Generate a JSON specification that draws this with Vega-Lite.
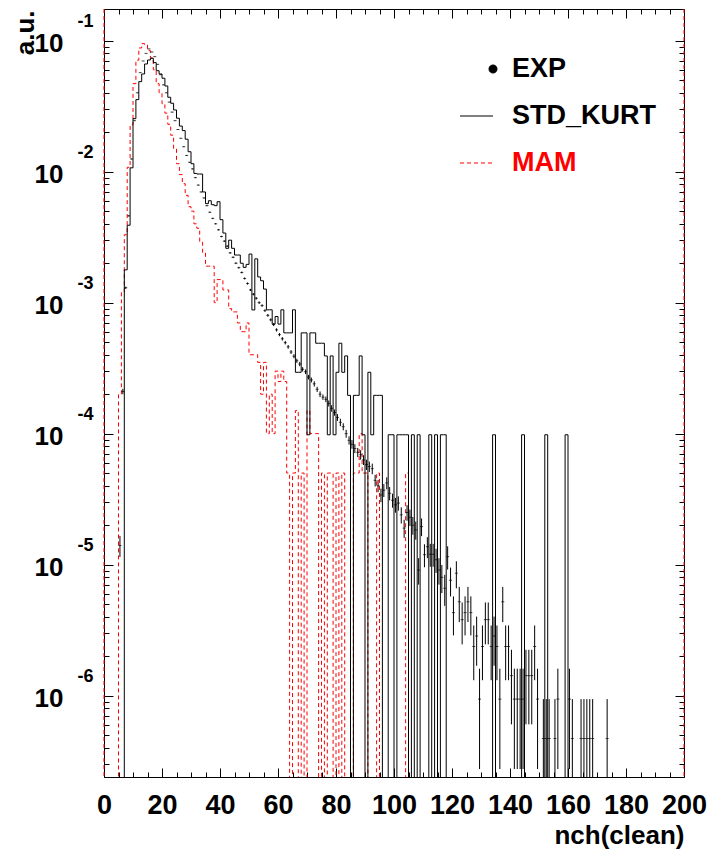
{
  "$schema": "https://vega.github.io/schema/vega-lite/v6.json",
  "width": 580,
  "height": 768,
  "autosize": {"type": "none"},
  "padding": {"left": 104, "top": 9, "right": 27, "bottom": 77},
  "background": "white",
  "config": {"view": {"stroke": "black", "strokeWidth": 1}, "font": "Liberation Sans"},
  "datasets": {
    "edges": [{"n": 0}, {"n": 200}],
    "mam": [{"n":4,"v":1e-9},{"n":5,"v":0.0002},{"n":6,"v":0.0012},{"n":7,"v":0.0033},{"n":8,"v":0.0108},{"n":9,"v":0.0228},{"n":10,"v":0.047},{"n":11,"v":0.071},{"n":12,"v":0.088},{"n":13,"v":0.095},{"n":14,"v":0.093},{"n":15,"v":0.084},{"n":16,"v":0.074},{"n":17,"v":0.06},{"n":18,"v":0.047},{"n":19,"v":0.04},{"n":20,"v":0.033},{"n":21,"v":0.028},{"n":22,"v":0.023},{"n":23,"v":0.019},{"n":24,"v":0.015},{"n":25,"v":0.0115},{"n":26,"v":0.0095},{"n":27,"v":0.0081},{"n":28,"v":0.0066},{"n":29,"v":0.0054},{"n":30,"v":0.005},{"n":31,"v":0.004},{"n":32,"v":0.0037},{"n":33,"v":0.0029},{"n":34,"v":0.0024},{"n":35,"v":0.0019},{"n":36,"v":0.0019},{"n":37,"v":0.0019},{"n":38,"v":0.001},{"n":39,"v":0.0015},{"n":40,"v":0.0015},{"n":41,"v":0.00125},{"n":42,"v":0.00125},{"n":43,"v":0.0009},{"n":44,"v":0.00085},{"n":45,"v":0.00085},{"n":46,"v":0.0007},{"n":47,"v":0.0006},{"n":48,"v":0.0006},{"n":49,"v":0.0007},{"n":50,"v":0.0004},{"n":51,"v":0.0004},{"n":52,"v":0.0004},{"n":53,"v":0.00035},{"n":54,"v":0.0002},{"n":55,"v":0.00035},{"n":56,"v":0.0001},{"n":57,"v":0.0002},{"n":58,"v":0.0001},{"n":59,"v":0.0003},{"n":60,"v":0.00025},{"n":61,"v":0.0003},{"n":62,"v":0.00025},{"n":63,"v":0.00005},{"n":64,"v":1e-9},{"n":65,"v":0.00005},{"n":66,"v":0.00015},{"n":67,"v":1e-9},{"n":68,"v":0.00005},{"n":69,"v":1e-9},{"n":70,"v":0.00015},{"n":71,"v":0.0001},{"n":72,"v":0.0001},{"n":73,"v":0.0001},{"n":74,"v":1e-9},{"n":75,"v":0.00005},{"n":76,"v":1e-9},{"n":77,"v":0.00005},{"n":78,"v":0.00005},{"n":79,"v":1e-9},{"n":80,"v":0.00005},{"n":81,"v":1e-9},{"n":82,"v":0.00005},{"n":83,"v":1e-9},{"n":86,"v":0.00005},{"n":87,"v":0.00005},{"n":88,"v":0.0001},{"n":89,"v":0.00005},{"n":90,"v":0.00005},{"n":91,"v":1e-9},{"n":94,"v":0.00005},{"n":95,"v":1e-9},{"n":104,"v":0.00005},{"n":105,"v":1e-9}],
    "std": [{"n":5,"v":1e-9},{"n":7,"v":0.00178},{"n":8,"v":0.0039},{"n":9,"v":0.0107},{"n":10,"v":0.0254},{"n":11,"v":0.0355},{"n":12,"v":0.0487},{"n":13,"v":0.0557},{"n":14,"v":0.0664},{"n":15,"v":0.0712},{"n":16,"v":0.0734},{"n":17,"v":0.068},{"n":18,"v":0.059},{"n":19,"v":0.0557},{"n":20,"v":0.0517},{"n":21,"v":0.0451},{"n":22,"v":0.037},{"n":23,"v":0.0333},{"n":24,"v":0.0296},{"n":25,"v":0.0256},{"n":26,"v":0.0223},{"n":27,"v":0.0206},{"n":28,"v":0.0177},{"n":29,"v":0.0142},{"n":30,"v":0.0115},{"n":31,"v":0.0097},{"n":32,"v":0.0096},{"n":33,"v":0.0096},{"n":34,"v":0.007},{"n":35,"v":0.0057},{"n":36,"v":0.006},{"n":37,"v":0.0056},{"n":38,"v":0.0055},{"n":39,"v":0.0059},{"n":40,"v":0.0043},{"n":41,"v":0.0034},{"n":42,"v":0.0026},{"n":43,"v":0.003},{"n":44,"v":0.0026},{"n":45,"v":0.00231},{"n":46,"v":0.00231},{"n":47,"v":0.002},{"n":48,"v":0.00186},{"n":49,"v":0.00196},{"n":50,"v":0.00235},{"n":51,"v":0.00088},{"n":52,"v":0.00216},{"n":53,"v":0.00157},{"n":54,"v":0.00147},{"n":55,"v":0.00127},{"n":56,"v":0.000882},{"n":57,"v":0.000882},{"n":58,"v":0.000686},{"n":59,"v":0.000784},{"n":60,"v":0.000686},{"n":61,"v":0.000882},{"n":62,"v":0.000588},{"n":63,"v":0.000588},{"n":64,"v":0.000588},{"n":65,"v":0.000882},{"n":66,"v":0.000294},{"n":67,"v":0.000294},{"n":68,"v":0.000588},{"n":69,"v":0.000588},{"n":70,"v":0.000098},{"n":71,"v":0.000588},{"n":72,"v":0.000588},{"n":73,"v":0.00049},{"n":74,"v":0.00049},{"n":75,"v":0.00049},{"n":76,"v":0.000392},{"n":77,"v":0.000098},{"n":78,"v":0.000392},{"n":79,"v":0.000098},{"n":80,"v":0.000294},{"n":81,"v":0.00049},{"n":82,"v":0.000294},{"n":83,"v":0.000392},{"n":84,"v":0.000196},{"n":85,"v":1e-9},{"n":86,"v":0.000196},{"n":87,"v":0.000196},{"n":88,"v":0.000392},{"n":89,"v":0.000098},{"n":90,"v":1e-9},{"n":91,"v":0.000294},{"n":92,"v":0.000098},{"n":93,"v":0.000196},{"n":94,"v":0.000196},{"n":95,"v":0.000196},{"n":96,"v":1e-9},{"n":98,"v":0.000098},{"n":99,"v":0.000098},{"n":100,"v":1e-9},{"n":101,"v":0.000098},{"n":102,"v":0.000098},{"n":103,"v":0.000098},{"n":104,"v":0.000098},{"n":105,"v":1e-9},{"n":106,"v":0.000098},{"n":107,"v":1e-9},{"n":108,"v":0.000098},{"n":109,"v":1e-9},{"n":112,"v":0.000098},{"n":113,"v":1e-9},{"n":114,"v":0.000098},{"n":115,"v":1e-9},{"n":116,"v":0.000098},{"n":117,"v":0.000098},{"n":118,"v":1e-9},{"n":134,"v":0.000098},{"n":135,"v":1e-9},{"n":144,"v":0.000098},{"n":145,"v":1e-9},{"n":152,"v":0.000098},{"n":153,"v":1e-9},{"n":159,"v":0.000098},{"n":160,"v":1e-9}],
    "exp": [
      {"c":5.5,"v":1.4e-5,"lo":1.144e-5,"hi":1.656e-5},{"c":6.5,"v":2.1e-4,"lo":2.0e-4,"hi":2.2e-4},{"c":7.5,"v":0.0013,"lo":0.001275,"hi":0.001325},{"c":8.5,"v":0.0046,"lo":0.004554,"hi":0.004646},{"c":9.5,"v":0.0125,"lo":0.01242,"hi":0.01258},{"c":10.5,"v":0.0245,"lo":0.02439,"hi":0.02461},{"c":11.5,"v":0.04,"lo":0.03986,"hi":0.04014},{"c":12.5,"v":0.057,"lo":0.05684,"hi":0.05716},{"c":13.5,"v":0.07,"lo":0.06982,"hi":0.07018},{"c":14.5,"v":0.08,"lo":0.07981,"hi":0.08019},{"c":15.5,"v":0.0865,"lo":0.0863,"hi":0.0867},{"c":16.5,"v":0.082,"lo":0.0818,"hi":0.0822},{"c":17.5,"v":0.0755,"lo":0.07531,"hi":0.07569},{"c":18.5,"v":0.066,"lo":0.06582,"hi":0.06618},{"c":19.5,"v":0.055,"lo":0.05484,"hi":0.05516},{"c":20.5,"v":0.046,"lo":0.04585,"hi":0.04615},{"c":21.5,"v":0.04,"lo":0.03986,"hi":0.04014},{"c":22.5,"v":0.034,"lo":0.03387,"hi":0.03413},{"c":23.5,"v":0.0285,"lo":0.02838,"hi":0.02862},{"c":24.5,"v":0.0245,"lo":0.02439,"hi":0.02461},{"c":25.5,"v":0.021,"lo":0.0209,"hi":0.0211},{"c":26.5,"v":0.018,"lo":0.01791,"hi":0.01809},{"c":27.5,"v":0.0155,"lo":0.01541,"hi":0.01559},{"c":28.5,"v":0.0133,"lo":0.01322,"hi":0.01338},{"c":29.5,"v":0.0118,"lo":0.01173,"hi":0.01187},{"c":30.5,"v":0.0105,"lo":0.01043,"hi":0.01057},{"c":31.5,"v":0.009,"lo":0.008935,"hi":0.009065},{"c":32.5,"v":0.0079,"lo":0.007839,"hi":0.007961},{"c":33.5,"v":0.007,"lo":0.006943,"hi":0.007057},{"c":34.5,"v":0.0063,"lo":0.006246,"hi":0.006354},{"c":35.5,"v":0.0055,"lo":0.005449,"hi":0.005551},{"c":36.5,"v":0.0049,"lo":0.004852,"hi":0.004948},{"c":37.5,"v":0.0044,"lo":0.004355,"hi":0.004445},{"c":38.5,"v":0.004,"lo":0.003957,"hi":0.004043},{"c":39.5,"v":0.0036,"lo":0.003559,"hi":0.003641},{"c":40.5,"v":0.0032,"lo":0.003161,"hi":0.003239},{"c":41.5,"v":0.00295,"lo":0.002913,"hi":0.002987},{"c":42.5,"v":0.0027,"lo":0.002664,"hi":0.002736},{"c":43.5,"v":0.0024,"lo":0.002366,"hi":0.002434},{"c":44.5,"v":0.00222,"lo":0.002188,"hi":0.002252},{"c":45.5,"v":0.002,"lo":0.00197,"hi":0.00203},{"c":46.5,"v":0.00185,"lo":0.001821,"hi":0.001879},{"c":47.5,"v":0.0017,"lo":0.001672,"hi":0.001728},{"c":48.5,"v":0.00153,"lo":0.001503,"hi":0.001557},{"c":49.5,"v":0.0014,"lo":0.001374,"hi":0.001426},{"c":50.5,"v":0.00125,"lo":0.001226,"hi":0.001274},{"c":51.5,"v":0.00116,"lo":0.001137,"hi":0.001183},{"c":52.5,"v":0.00108,"lo":0.001057,"hi":0.001103},{"c":53.5,"v":0.001,"lo":0.000978,"hi":0.001022},{"c":54.5,"v":0.00095,"lo":0.000929,"hi":0.000971},{"c":55.5,"v":0.00087,"lo":0.00085,"hi":0.00089},{"c":56.5,"v":0.0008,"lo":0.000781,"hi":0.000819},{"c":57.5,"v":0.00074,"lo":0.000721,"hi":0.000759},{"c":58.5,"v":0.00068,"lo":0.000662,"hi":0.000698},{"c":59.5,"v":0.00062,"lo":0.000603,"hi":0.000637},{"c":60.5,"v":0.00057,"lo":0.000554,"hi":0.000586},{"c":61.5,"v":0.00053,"lo":0.000514,"hi":0.000546},{"c":62.5,"v":0.000495,"lo":0.00048,"hi":0.00051},{"c":63.5,"v":0.00046,"lo":0.000445,"hi":0.000475},{"c":64.5,"v":0.00042,"lo":0.000406,"hi":0.000434},{"c":65.5,"v":0.00039,"lo":0.000376,"hi":0.000404},{"c":66.5,"v":0.00036,"lo":0.000347,"hi":0.000373},{"c":67.5,"v":0.00034,"lo":0.000327,"hi":0.000353},{"c":68.5,"v":0.00031,"lo":0.000298,"hi":0.000322},{"c":69.5,"v":0.000297,"lo":0.000285,"hi":0.000309},{"c":70.5,"v":0.00027,"lo":0.000259,"hi":0.000281},{"c":71.5,"v":0.000257,"lo":0.000246,"hi":0.000268},{"c":72.5,"v":0.00024,"lo":0.000229,"hi":0.000251},{"c":73.5,"v":0.000218,"lo":0.000208,"hi":0.000228},{"c":74.5,"v":0.0002,"lo":0.00019,"hi":0.00021},{"c":75.5,"v":0.00019,"lo":0.000181,"hi":0.000199},{"c":76.5,"v":0.000183,"lo":0.000174,"hi":0.000192},{"c":77.5,"v":0.00017,"lo":0.000161,"hi":0.000179},{"c":78.5,"v":0.000156,"lo":0.000147,"hi":0.000165},{"c":79.5,"v":0.000145,"lo":0.000137,"hi":0.000153},{"c":80.5,"v":0.000133,"lo":0.000125,"hi":0.000141},{"c":81.5,"v":0.000122,"lo":0.000114,"hi":0.00013},{"c":82.5,"v":0.000113,"lo":0.000106,"hi":0.00012},{"c":83.5,"v":0.0001,"lo":0.0000931,"hi":0.0001069},{"c":84.5,"v":0.000089,"lo":0.0000825,"hi":0.0000955},{"c":85.5,"v":0.000083,"lo":0.0000767,"hi":0.0000893},{"c":86.5,"v":0.000077,"lo":0.000071,"hi":0.000083},{"c":87.5,"v":0.000072,"lo":0.0000662,"hi":0.0000778},{"c":88.5,"v":0.000069,"lo":0.0000633,"hi":0.0000747},{"c":89.5,"v":0.000063,"lo":0.0000576,"hi":0.0000684},{"c":90.5,"v":0.000058,"lo":0.0000528,"hi":0.0000632},{"c":91.5,"v":0.000056,"lo":0.0000509,"hi":0.0000611},{"c":92.5,"v":0.000054,"lo":0.000049,"hi":0.000059},{"c":93.5,"v":0.000044,"lo":0.0000395,"hi":0.0000485},{"c":94.5,"v":0.00004,"lo":0.0000357,"hi":0.0000443},{"c":95.5,"v":0.000034,"lo":0.00003,"hi":0.000038},{"c":96.5,"v":0.000037,"lo":0.0000328,"hi":0.0000412},{"c":97.5,"v":0.000042,"lo":0.0000376,"hi":0.0000464},{"c":98.5,"v":0.000035,"lo":0.0000309,"hi":0.0000391},{"c":99.5,"v":0.000031,"lo":0.0000272,"hi":0.0000348},{"c":100.5,"v":0.0000286,"lo":0.0000249,"hi":0.0000323},{"c":101.5,"v":0.0000295,"lo":0.0000258,"hi":0.0000332},{"c":102.5,"v":0.000024,"lo":0.0000206,"hi":0.0000274},{"c":103.5,"v":0.000019,"lo":0.000016,"hi":0.000022},{"c":104.5,"v":0.000025,"lo":0.0000216,"hi":0.0000284},{"c":105.5,"v":0.000023,"lo":0.0000197,"hi":0.0000263},{"c":106.5,"v":0.00002,"lo":0.0000169,"hi":0.0000231},{"c":107.5,"v":0.0000184,"lo":0.0000155,"hi":0.0000213},{"c":108.5,"v":0.0000091,"lo":0.00000703,"hi":0.0000112},{"c":109.5,"v":0.0000195,"lo":0.0000165,"hi":0.0000225},{"c":110.5,"v":0.0000119,"lo":0.00000954,"hi":0.0000143},{"c":111.5,"v":0.0000137,"lo":0.0000112,"hi":0.0000162},{"c":112.5,"v":0.000012,"lo":0.00000963,"hi":0.0000144},{"c":113.5,"v":0.000012,"lo":0.00000963,"hi":0.0000144},{"c":114.5,"v":0.0000109,"lo":0.00000864,"hi":0.0000132},{"c":115.5,"v":0.0000091,"lo":0.00000703,"hi":0.0000112},{"c":116.5,"v":0.000008,"lo":0.00000606,"hi":0.00000994},{"c":117.5,"v":0.0000066,"lo":0.00000484,"hi":0.00000836},{"c":118.5,"v":0.0000115,"lo":0.00000917,"hi":0.0000138},{"c":119.5,"v":0.0000076,"lo":0.00000571,"hi":0.00000949},{"c":120.5,"v":0.0000043,"lo":0.00000288,"hi":0.00000572},{"c":121.5,"v":0.0000086,"lo":0.00000659,"hi":0.0000106},{"c":122.5,"v":0.0000052,"lo":0.00000364,"hi":0.00000676},{"c":123.5,"v":0.0000038,"lo":0.00000246,"hi":0.00000514},{"c":124.5,"v":0.0000043,"lo":0.00000288,"hi":0.00000572},{"c":125.5,"v":0.0000052,"lo":0.00000364,"hi":0.00000676},{"c":126.5,"v":0.0000043,"lo":0.00000288,"hi":0.00000572},{"c":127.5,"v":0.00000237,"lo":0.00000131,"hi":0.00000343},{"c":128.5,"v":0.00000285,"lo":0.00000169,"hi":0.00000401},{"c":129.5,"v":0.00000094,"lo":0.000000275,"hi":0.000001605},{"c":130.5,"v":0.00000237,"lo":0.00000131,"hi":0.00000343},{"c":131.5,"v":0.0000038,"lo":0.00000246,"hi":0.00000514},{"c":132.5,"v":0.0000038,"lo":0.00000246,"hi":0.00000514},{"c":133.5,"v":0.00000237,"lo":0.00000131,"hi":0.00000343},{"c":134.5,"v":0.00000285,"lo":0.00000169,"hi":0.00000401},{"c":135.5,"v":0.00000237,"lo":0.00000131,"hi":0.00000343},{"c":136.5,"v":0.00000094,"lo":0.000000275,"hi":0.000001605},{"c":137.5,"v":0.0000052,"lo":0.00000364,"hi":0.00000676},{"c":138.5,"v":0.00000237,"lo":0.00000131,"hi":0.00000343},{"c":139.5,"v":0.00000237,"lo":0.00000131,"hi":0.00000343},{"c":140.5,"v":0.00000142,"lo":0.000000603,"hi":0.000002237},{"c":141.5,"v":0.00000094,"lo":0.000000275,"hi":0.000001605},{"c":142.5,"v":0.00000094,"lo":0.000000275,"hi":0.000001605},{"c":143.5,"v":0.00000094,"lo":0.000000275,"hi":0.000001605},{"c":144.5,"v":0.00000094,"lo":0.000000275,"hi":0.000001605},{"c":145.5,"v":0.00000142,"lo":0.000000603,"hi":0.000002237},{"c":146.5,"v":0.00000142,"lo":0.000000603,"hi":0.000002237},{"c":147.5,"v":0.00000142,"lo":0.000000603,"hi":0.000002237},{"c":148.5,"v":0.00000237,"lo":0.00000131,"hi":0.00000343},{"c":149.5,"v":0.00000094,"lo":0.000000275,"hi":0.000001605},{"c":151.5,"v":0.00000047,"lo":1e-9,"hi":0.00000094},{"c":152.5,"v":0.00000047,"lo":1e-9,"hi":0.00000094},{"c":153.5,"v":0.00000047,"lo":1e-9,"hi":0.00000094},{"c":155.5,"v":0.00000047,"lo":1e-9,"hi":0.00000094},{"c":156.5,"v":0.00000094,"lo":0.000000275,"hi":0.000001605},{"c":160.5,"v":0.00000094,"lo":0.000000275,"hi":0.000001605},{"c":161.5,"v":0.00000047,"lo":1e-9,"hi":0.00000094},{"c":164.5,"v":0.00000047,"lo":1e-9,"hi":0.00000094},{"c":165.5,"v":0.00000047,"lo":1e-9,"hi":0.00000094},{"c":166.5,"v":0.00000047,"lo":1e-9,"hi":0.00000094},{"c":167.5,"v":0.00000047,"lo":1e-9,"hi":0.00000094},{"c":168.5,"v":0.00000047,"lo":1e-9,"hi":0.00000094},{"c":173.5,"v":0.00000047,"lo":1e-9,"hi":0.00000094}
    ]
  },
  "resolve": {"axis": {"x": "independent", "y": "independent"}},
  "layer": [
    {
      "data": {"name": "mam"},
      "mark": {"type": "line", "interpolate": "step-after", "strokeWidth": 1, "strokeDash": [4, 3], "clip": true},
      "encoding": {
        "x": {"field": "n", "type": "quantitative", "scale": {"domain": [0, 200], "nice": false, "zero": false},
          "axis": {"orient": "bottom", "values": [0,5,10,15,20,25,30,35,40,45,50,55,60,65,70,75,80,85,90,95,100,105,110,115,120,125,130,135,140,145,150,155,160,165,170,175,180,185,190,195,200],
            "format": "d", "labelExpr": "datum.value % 20 === 0 ? datum.label : ''",
            "tickSize": {"condition": {"test": "datum.value % 20 === 0", "value": -9}, "value": -5},
            "tickColor": "black", "tickWidth": 1, "domain": false, "grid": false,
            "labelFont": "Liberation Sans", "labelFontWeight": "bold", "labelFontSize": 27, "labelColor": "black",
            "labelPadding": 24, "labelOverlap": false, "labelFlush": false, "labelBound": false,
            "title": "nch(clean)", "titleFont": "Liberation Sans", "titleFontWeight": "bold", "titleFontSize": 26, "titleColor": "black",
            "titleAlign": "right", "titleBaseline": "alphabetic", "titleX": 580, "titleY": 66, "titleAnchor": "end"}},
        "y": {"field": "v", "type": "quantitative", "scale": {"type": "log", "domain": [2.39e-7, 0.1746], "nice": false},
          "axis": {"orient": "left", "values": [3e-7,4e-7,5e-7,6e-7,7e-7,8e-7,9e-7,1e-6,2e-6,3e-6,4e-6,5e-6,6e-6,7e-6,8e-6,9e-6,1e-5,2e-5,3e-5,4e-5,5e-5,6e-5,7e-5,8e-5,9e-5,1e-4,2e-4,3e-4,4e-4,5e-4,6e-4,7e-4,8e-4,9e-4,0.001,0.002,0.003,0.004,0.005,0.006,0.007,0.008,0.009,0.01,0.02,0.03,0.04,0.05,0.06,0.07,0.08,0.09,0.1],
            "labelExpr": "abs(log(datum.value)/LN10 - round(log(datum.value)/LN10)) < 1e-6 ? '10' : ''",
            "tickSize": {"condition": {"test": "abs(log(datum.value)/LN10 - round(log(datum.value)/LN10)) < 1e-6", "value": -9}, "value": -5},
            "tickColor": "black", "tickWidth": 1, "domain": false, "grid": false,
            "labelFont": "Liberation Sans", "labelFontWeight": "bold", "labelFontSize": 26, "labelColor": "black",
            "labelPadding": 50, "labelOffset": 3, "labelOverlap": false, "labelFlush": false, "labelBound": false,
            "title": "a.u.", "titleFont": "Liberation Sans", "titleFontWeight": "bold", "titleFontSize": 26, "titleColor": "black",
            "titleAngle": -90, "titleAlign": "right", "titleBaseline": "alphabetic", "titleX": -71, "titleY": 1}},
        "color": {"datum": "MAM", "type": "nominal",
          "scale": {"domain": ["EXP", "STD_KURT", "MAM"], "range": ["black", "black", "#ff0000"]},
          "legend": {"orient": "none", "legendX": 356, "legendY": 43, "title": null,
            "symbolType": "stroke", "symbolSize": 1089, "symbolStrokeWidth": 1,
            "labelFont": "Liberation Sans", "labelFontWeight": "bold", "labelFontSize": 27, "labelOffset": 18, "labelLimit": 0,
            "rowPadding": 17, "padding": 0,
            "encode": {
              "symbols": {"update": {
                "shape": {"signal": "datum.value === 'EXP' ? 'circle' : 'stroke'"},
                "size": {"signal": "datum.value === 'EXP' ? 64 : 1089"},
                "fill": {"signal": "datum.value === 'EXP' ? 'black' : 'transparent'"},
                "stroke": {"signal": "datum.value === 'MAM' ? '#ff0000' : 'black'"},
                "strokeDash": {"signal": "datum.value === 'MAM' ? [4,3] : [1,0]"},
                "strokeWidth": {"value": 1},
                "x": {"signal": "datum.value === 'EXP' ? 33 : 16.5"}
              }},
              "labels": {"update": {"fill": {"signal": "datum.value === 'MAM' ? '#ff0000' : 'black'"}}}
            }}}
      }
    },
    {
      "data": {"name": "std"},
      "mark": {"type": "line", "interpolate": "step-after", "strokeWidth": 1, "clip": true},
      "encoding": {
        "x": {"field": "n", "type": "quantitative", "scale": {"domain": [0, 200], "nice": false, "zero": false},
          "axis": {"orient": "top", "values": [0,5,10,15,20,25,30,35,40,45,50,55,60,65,70,75,80,85,90,95,100,105,110,115,120,125,130,135,140,145,150,155,160,165,170,175,180,185,190,195,200],
            "labels": false, "domain": false, "grid": false, "title": null, "tickColor": "black", "tickWidth": 1,
            "tickSize": {"condition": {"test": "datum.value % 20 === 0", "value": -9}, "value": -5}}},
        "y": {"field": "v", "type": "quantitative", "scale": {"type": "log", "domain": [2.39e-7, 0.1746], "nice": false},
          "axis": {"orient": "right", "values": [3e-7,4e-7,5e-7,6e-7,7e-7,8e-7,9e-7,1e-6,2e-6,3e-6,4e-6,5e-6,6e-6,7e-6,8e-6,9e-6,1e-5,2e-5,3e-5,4e-5,5e-5,6e-5,7e-5,8e-5,9e-5,1e-4,2e-4,3e-4,4e-4,5e-4,6e-4,7e-4,8e-4,9e-4,0.001,0.002,0.003,0.004,0.005,0.006,0.007,0.008,0.009,0.01,0.02,0.03,0.04,0.05,0.06,0.07,0.08,0.09,0.1],
            "labels": false, "domain": false, "grid": false, "title": null, "tickColor": "black", "tickWidth": 1,
            "tickSize": {"condition": {"test": "abs(log(datum.value)/LN10 - round(log(datum.value)/LN10)) < 1e-6", "value": -9}, "value": -5}}},
        "color": {"datum": "STD_KURT", "type": "nominal"}
      }
    },
    {
      "data": {"name": "exp"},
      "mark": {"type": "rule", "color": "black", "strokeWidth": 1, "clip": true},
      "encoding": {
        "x": {"field": "c", "type": "quantitative", "scale": {"domain": [0, 200], "nice": false, "zero": false}, "axis": null},
        "y": {"field": "lo", "type": "quantitative", "scale": {"type": "log", "domain": [2.39e-7, 0.1746], "nice": false},
          "axis": {"orient": "left", "values": [1e-6, 1e-5, 1e-4, 0.001, 0.01, 0.1], "ticks": false, "domain": false, "grid": false, "title": null,
            "labelExpr": "'' + round(log(datum.value)/LN10)",
            "labelFont": "Liberation Sans", "labelFontWeight": "bold", "labelFontSize": 18, "labelColor": "black",
            "labelPadding": 11, "labelOffset": -19, "labelOverlap": false, "labelFlush": false, "labelBound": false}},
        "y2": {"field": "hi"}
      }
    },
    {
      "data": {"name": "exp"},
      "mark": {"type": "tick", "orient": "horizontal", "color": "black", "size": 3, "thickness": 1, "clip": true},
      "encoding": {
        "x": {"field": "c", "type": "quantitative", "scale": {"domain": [0, 200], "nice": false, "zero": false}, "axis": null},
        "y": {"field": "v", "type": "quantitative", "scale": {"type": "log", "domain": [2.39e-7, 0.1746], "nice": false}, "axis": null}
      }
    },
    {
      "data": {"name": "edges"},
      "mark": {"type": "rule", "color": "#ff0000", "strokeWidth": 1, "strokeDash": [4, 3]},
      "encoding": {
        "x": {"field": "n", "type": "quantitative", "scale": {"domain": [0, 200], "nice": false, "zero": false}, "axis": null}
      }
    }
  ]
}
